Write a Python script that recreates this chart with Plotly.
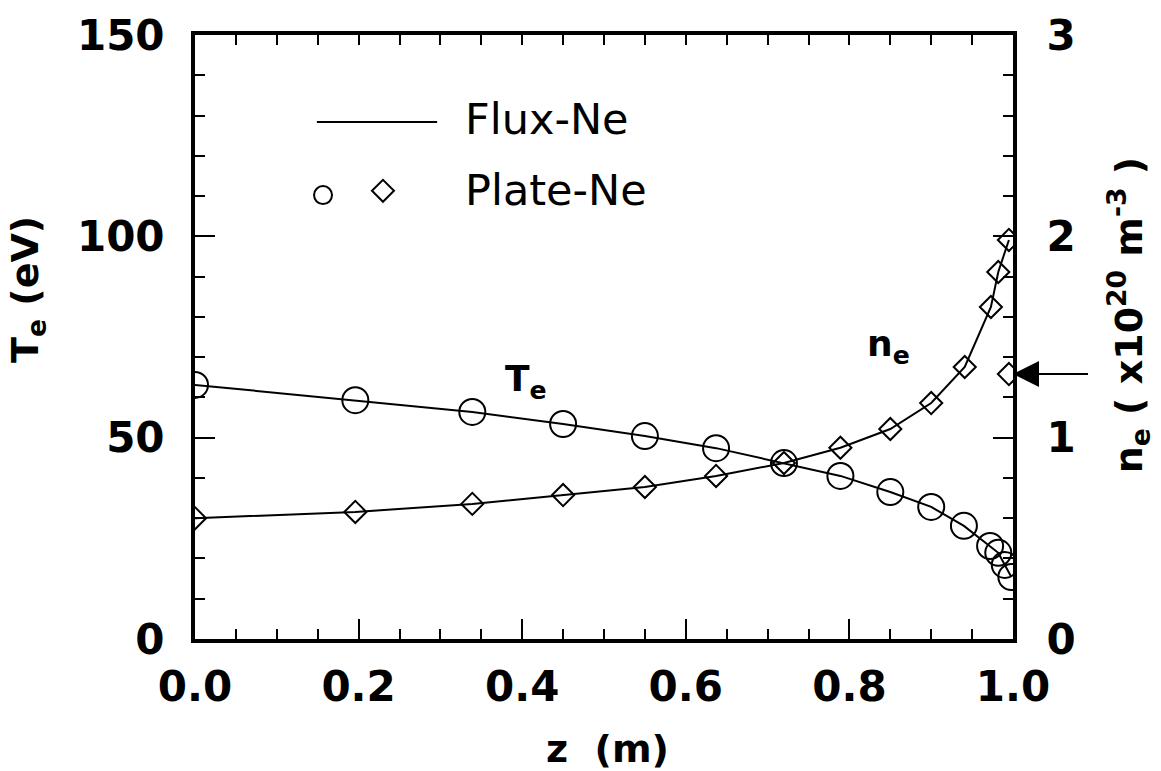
import plotly.graph_objects as go

# ---- data ----
z_te = [0.0, 0.196, 0.339, 0.450, 0.550, 0.637, 0.720, 0.789, 0.850, 0.900, 0.940, 0.972, 0.982, 0.990, 0.998]
te_plate = [63.1, 59.3, 56.4, 53.4, 50.4, 47.4, 43.7, 40.5, 36.5, 32.8, 28.1, 23.1, 21.4, 18.4, 15.4]

z_ne = [0.0, 0.196, 0.339, 0.450, 0.550, 0.637, 0.720, 0.789, 0.850, 0.900, 0.941, 0.973, 0.982, 0.995]
ne_plate = [0.60, 0.631, 0.671, 0.715, 0.755, 0.810, 0.874, 0.950, 1.043, 1.172, 1.351, 1.649, 1.823, 1.982]

z_ne_extra = [0.995]
ne_extra = [1.316]

x_ticks = [0.0, 0.2, 0.4, 0.6, 0.8, 1.0]
x_ticktext = ["0.0", "0.2", "0.4", "0.6", "0.8", "1.0"]
te_ticks = [0, 50, 100, 150]
ne_ticks = [0, 1, 2, 3]

BLACK = "black"
TICKFONT = dict(family="DejaVu Sans", size=42, color=BLACK, weight="bold")

fig = go.Figure()

# Flux-Ne lines
fig.add_trace(go.Scatter(x=z_te, y=te_plate, mode="lines",
                         line=dict(color=BLACK, width=2), xaxis="x", yaxis="y",
                         showlegend=False, hoverinfo="skip"))
fig.add_trace(go.Scatter(x=z_ne, y=ne_plate, mode="lines",
                         line=dict(color=BLACK, width=2), xaxis="x", yaxis="y2",
                         showlegend=False, hoverinfo="skip"))
# Plate-Ne markers
fig.add_trace(go.Scatter(x=z_te, y=te_plate, mode="markers",
                         marker=dict(symbol="circle-open", size=26, color=BLACK,
                                     line=dict(width=2, color=BLACK)),
                         xaxis="x", yaxis="y", showlegend=False))
fig.add_trace(go.Scatter(x=z_ne + z_ne_extra, y=ne_plate + ne_extra, mode="markers",
                         marker=dict(symbol="diamond-open", size=17, color=BLACK,
                                     line=dict(width=2, color=BLACK)),
                         xaxis="x", yaxis="y2", showlegend=False))
# invisible trace to anchor the top axis
fig.add_trace(go.Scatter(x=[0, 1], y=[0, 0], mode="markers", marker=dict(opacity=0),
                         xaxis="x2", yaxis="y", showlegend=False, hoverinfo="skip"))

fig.update_layout(
    width=1161, height=771,
    margin=dict(l=195, r=148, t=35, b=132),
    paper_bgcolor="white", plot_bgcolor="white",
    showlegend=False,
    xaxis=dict(range=[0, 1], tickvals=x_ticks, ticktext=x_ticktext,
               showline=True, linewidth=4, linecolor=BLACK, mirror=False,
               ticks="inside", ticklen=20, tickwidth=2, tickcolor=BLACK,
               minor=dict(dtick=0.05, ticks="inside", ticklen=10, tickwidth=2, tickcolor=BLACK),
               showgrid=False, zeroline=False, tickfont=TICKFONT, ticklabelstandoff=8),
    xaxis2=dict(range=[0, 1], overlaying="x", side="top", anchor="y",
                showline=True, linewidth=4, linecolor=BLACK,
                ticks="inside", dtick=0.05, tick0=0, ticklen=10, tickwidth=2, tickcolor=BLACK,
                showticklabels=False, showgrid=False, zeroline=False),
    yaxis=dict(range=[0, 150], tickvals=te_ticks,
               showline=True, linewidth=4, linecolor=BLACK,
               ticks="inside", ticklen=20, tickwidth=2, tickcolor=BLACK,
               minor=dict(dtick=10, ticks="inside", ticklen=10, tickwidth=2, tickcolor=BLACK),
               showgrid=False, zeroline=False, tickfont=TICKFONT, ticklabelstandoff=18),
    yaxis2=dict(range=[0, 3], tickvals=ne_ticks, overlaying="y", side="right", anchor="x",
                showline=True, linewidth=4, linecolor=BLACK,
                ticks="inside", ticklen=20, tickwidth=2, tickcolor=BLACK,
                minor=dict(dtick=0.2, ticks="inside", ticklen=10, tickwidth=2, tickcolor=BLACK),
                showgrid=False, zeroline=False, tickfont=TICKFONT, ticklabelstandoff=21),
)

TITLEFONT = dict(family="DejaVu Sans", size=38, color=BLACK, weight="bold")
LABELFONT = dict(family="DejaVu Sans", size=36, color=BLACK, weight="bold")
LEGFONT = dict(family="DejaVu Sans", size=43, color=BLACK)

annotations = [
    dict(text="z  (m)", x=0.504, y=0, xref="paper", yref="paper", yshift=-110,
         xanchor="center", yanchor="middle", showarrow=False, font=TITLEFONT),
    dict(text="T<sub>e</sub> (eV)", x=0, y=0.578, xref="paper", yref="paper", xshift=-167,
         xanchor="center", yanchor="middle", textangle=-90, showarrow=False, font=TITLEFONT),
    dict(text="n<sub>e</sub> ( x10<sup>20</sup> m<sup>-3</sup> )", x=1, y=0.536, xref="paper",
         yref="paper", xshift=115, xanchor="center", yanchor="middle", textangle=-90,
         showarrow=False, font=TITLEFONT),
    dict(text="T<sub>e</sub>", x=0.405, y=0.427, xref="paper", yref="paper",
         xanchor="center", yanchor="middle", showarrow=False, font=LABELFONT),
    dict(text="n<sub>e</sub>", x=0.848, y=0.484, xref="paper", yref="paper",
         xanchor="center", yanchor="middle", showarrow=False, font=LABELFONT),
    dict(text="Flux-Ne", x=0.3276, y=0.861, xref="paper", yref="paper",
         xanchor="left", yanchor="middle", showarrow=False, font=LEGFONT),
    dict(text="Plate-Ne", x=0.3276, y=0.744, xref="paper", yref="paper",
         xanchor="left", yanchor="middle", showarrow=False, font=LEGFONT),
    # arrow pointing at the extra n_e point
    dict(text=" ", x=1.0, y=ne_extra[0], xref="x", yref="y2", ax=78, ay=0,
         showarrow=True, arrowhead=2, arrowsize=2.6, arrowwidth=2, arrowcolor=BLACK,
         standoff=0),
]
fig.update_layout(annotations=annotations)

shapes = [
    dict(type="line", xref="paper", yref="paper", x0=0.149, x1=0.296, y0=0.856, y1=0.856,
         line=dict(color=BLACK, width=2)),
    dict(type="circle", xref="paper", yref="paper", xsizemode="pixel", ysizemode="pixel",
         xanchor=0.1565, yanchor=0.735, x0=-9, x1=9, y0=-9, y1=9,
         line=dict(color=BLACK, width=2)),
    dict(type="path", xref="paper", yref="paper", xsizemode="pixel", ysizemode="pixel",
         xanchor=0.2298, yanchor=0.742, path="M-11,0 L0,11 L11,0 L0,-11 Z",
         line=dict(color=BLACK, width=2)),
]
fig.update_layout(shapes=shapes)

fig.write_html("out.html")
